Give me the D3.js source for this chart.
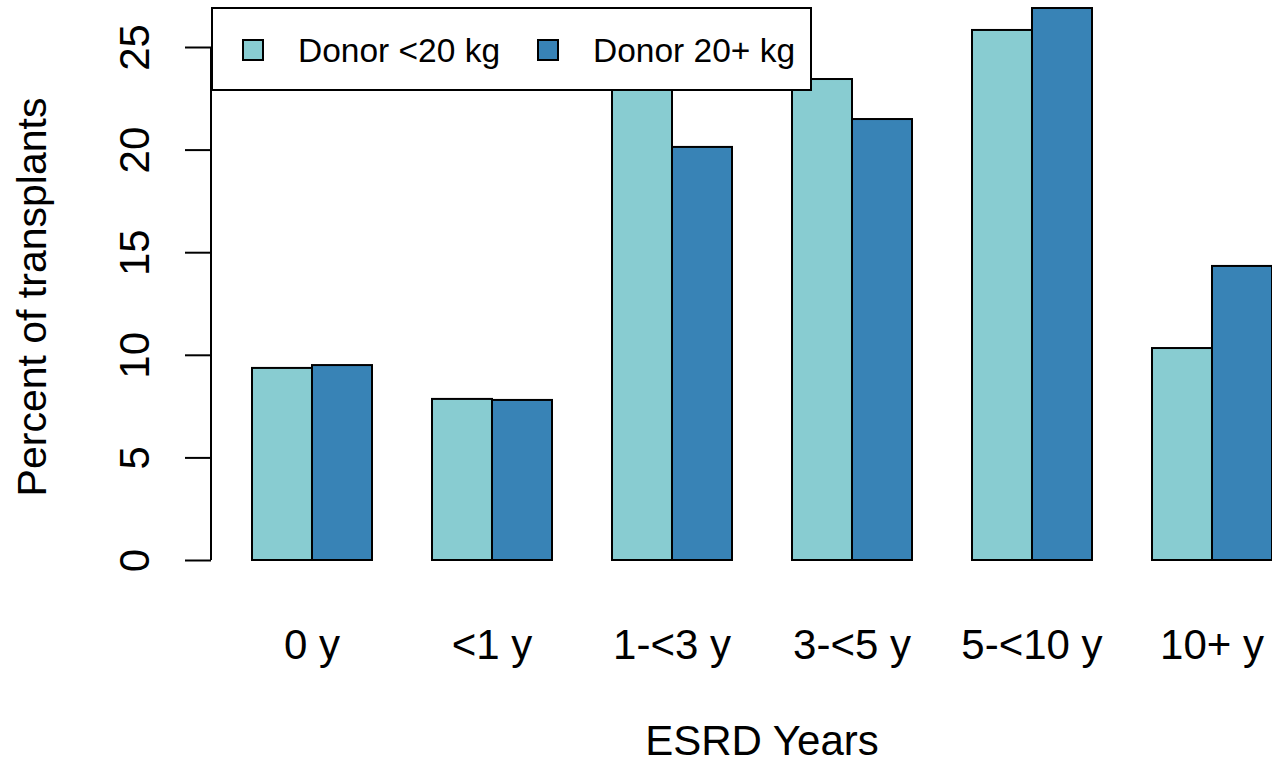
<!DOCTYPE html>
<html><head><meta charset="utf-8">
<script src="https://cdn.jsdelivr.net/npm/d3@7"></script>
<style>body{margin:0;background:#fff}svg{display:block;font-family:"Liberation Sans",Arial,sans-serif}</style>
</head><body>
<svg id="c" width="1272" height="767"></svg>
<script>
const categories = ["0 y","<1 y","1-<3 y","3-<5 y","5-<10 y","10+ y"];
const seriesNames = ["Donor <20 kg","Donor 20+ kg"];
const donorUnder20 = [9.36, 7.85, 23.2, 23.44, 25.83, 10.33];
const donorOver20 = [9.5, 7.8, 20.13, 21.49, 26.9, 14.33];
const colors = ["#88CCD1","#3883B6"];
const yTicks = [0,5,10,15,20,25];

const svg = d3.select("#c");
const y = d3.scaleLinear().domain([0,25]).range([560,47]);
const x0 = d3.scaleBand().domain(categories).range([192,1332]).paddingInner(1/3).paddingOuter(1/3);
const x1 = d3.scaleBand().domain([0,1]).range([0,x0.bandwidth()]);
const data = categories.map((c,i)=>({c, v:[donorUnder20[i], donorOver20[i]]}));

const g = svg.append("g");
data.forEach(d=>{
  d.v.forEach((v,j)=>{
    g.append("rect")
      .attr("x", x0(d.c)+x1(j))
      .attr("y", y(v))
      .attr("width", x1.bandwidth())
      .attr("height", y(0)-y(v))
      .attr("fill", colors[j])
      .attr("stroke","#000").attr("stroke-width",2);
  });
});

// y axis
const ya = svg.append("g").attr("transform","translate(211,0)")
  .call(d3.axisLeft(y).tickValues(yTicks).tickSize(26).tickFormat(d3.format("d")));
ya.select(".domain").attr("d", `M0,${y(0)}V${y(25)}`).attr("stroke","#000").attr("stroke-width",2);
ya.selectAll(".tick line").attr("stroke","#000").attr("stroke-width",2);
ya.selectAll(".tick text").remove();
ya.selectAll(".tick").append("text")
  .attr("transform","translate(-77,0) rotate(-90)")
  .attr("text-anchor","middle").attr("dy","0.35em")
  .attr("fill","#000").style("font-size","42px").text(d=>d);

// x labels
svg.append("g").selectAll("text").data(categories).join("text")
  .attr("x", d=>x0(d)+x0.bandwidth()/2).attr("y",659)
  .attr("text-anchor","middle").style("font-size","42px").text(d=>d);

svg.append("text").attr("x",762).attr("y",755).attr("text-anchor","middle")
  .style("font-size","42px").text("ESRD Years");
svg.append("text").attr("transform","translate(46,297) rotate(-90)")
  .attr("text-anchor","middle").style("font-size","41px").text("Percent of transplants");

// legend
const lg = svg.append("g");
lg.append("rect").attr("x",212).attr("y",8).attr("width",599).attr("height",82)
  .attr("fill","#fff").attr("stroke","#000").attr("stroke-width",2);
const lx = [243, 538];
seriesNames.forEach((s,j)=>{
  lg.append("rect").attr("x",lx[j]).attr("y",40).attr("width",20).attr("height",20)
    .attr("fill",colors[j]).attr("stroke","#000").attr("stroke-width",2);
  lg.append("text").attr("x",lx[j]+55).attr("y",50).attr("dy","0.35em")
    .style("font-size","33.5px").text(s);
});
</script>
</body></html>
